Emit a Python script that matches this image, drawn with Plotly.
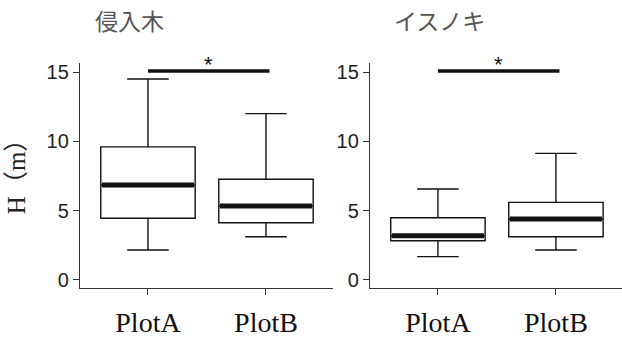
import plotly.graph_objects as go
from plotly.subplots import make_subplots

categories = ["PlotA", "PlotB"]
panel_titles = ["侵入木", "イスノキ"]

# left panel (侵入木)
inv_upper = [14.5, 12.0]
inv_q3 = [9.6, 7.26]
inv_median = [6.85, 5.33]
inv_q1 = [4.45, 4.13]
inv_lower = [2.16, 3.12]

# right panel (イスノキ)
isu_upper = [6.56, 9.13]
isu_q3 = [4.49, 5.6]
isu_median = [3.19, 4.4]
isu_q1 = [2.83, 3.12]
isu_lower = [1.68, 2.16]

sig_level = 15.07
sig_label = "*"
yticks = [0, 5, 10, 15]

panels = [
    (inv_lower, inv_q1, inv_median, inv_q3, inv_upper),
    (isu_lower, isu_q1, isu_median, isu_q3, isu_upper),
]

fig = make_subplots(rows=1, cols=2, horizontal_spacing=0.068)

BW = 0.8
xpos = list(range(len(categories)))
for c, (lo, q1, med, q3, up) in enumerate(panels, start=1):
    fig.add_trace(go.Box(
        x=xpos, q1=q1, median=med, q3=q3, lowerfence=lo, upperfence=up,
        width=BW, whiskerwidth=0.44, fillcolor="white",
        line=dict(color="#111", width=1.4), boxpoints=False,
        showlegend=False, hoverinfo="skip"), row=1, col=c)
    for i, m in enumerate(med):
        fig.add_trace(go.Scatter(
            x=[xpos[i] - BW / 2 + 0.01, xpos[i] + BW / 2 - 0.01], y=[m, m],
            mode="lines", line=dict(color="#111", width=5),
            showlegend=False, hoverinfo="skip"), row=1, col=c)
    fig.add_trace(go.Scatter(
        x=[xpos[0], xpos[1] + 0.03], y=[sig_level, sig_level], mode="lines",
        line=dict(color="#111", width=3.6), showlegend=False, hoverinfo="skip"),
        row=1, col=c)
    fig.add_annotation(x=(xpos[0] + xpos[1]) / 2 + 0.01, y=sig_level, text=sig_label,
                       showarrow=False, yanchor="bottom", yshift=-8,
                       font=dict(family="Liberation Sans", size=22, color="#111"),
                       xref=f"x{'' if c == 1 else c}", yref=f"y{'' if c == 1 else c}")

xranges = [[-0.576, 1.568], [-0.576, 1.56]]
for c in (1, 2):
    fig.update_xaxes(range=xranges[c - 1], tickvals=xpos, ticktext=categories,
                     showline=True, linecolor="#333", linewidth=1.3,
                     ticks="outside", ticklen=6, tickcolor="#333", tickwidth=1.2,
                     showgrid=False, zeroline=False, ticklabelstandoff=3,
                     tickfont=dict(family="Liberation Serif", size=28, color="#111"),
                     row=1, col=c)
    fig.update_yaxes(range=[-0.58, 15.65], tickvals=yticks,
                     showline=True, linecolor="#333", linewidth=1.3,
                     ticks="outside", ticklen=6, tickcolor="#333", tickwidth=1.2,
                     showgrid=False, zeroline=False,
                     tickfont=dict(family="Liberation Sans", size=20, color="#222"),
                     row=1, col=c)

fig.update_layout(
    width=622, height=339,
    margin=dict(l=80, r=0, t=63, b=51),
    plot_bgcolor="white", paper_bgcolor="white",
)
fig.update_xaxes(domain=[0, 0.4668], row=1, col=1)
fig.update_xaxes(domain=[0.535, 1.0], row=1, col=2)

title_x = [0.092, 0.664]
for t, xx in zip(panel_titles, title_x):
    fig.add_annotation(x=xx, y=1.191, xref="paper", yref="paper", text=t,
                       showarrow=False, xanchor="center", yanchor="middle",
                       font=dict(family="Noto Sans CJK JP", size=23, color="#555"))

fig.add_annotation(x=-0.118, y=0.524, xref="paper", yref="paper", text="H（m）",
                   showarrow=False, textangle=-90, xanchor="center", yanchor="middle",
                   font=dict(family="Liberation Serif, Noto Sans CJK JP", size=25, color="#222"))

fig.write_html("out.html", config={"displayModeBar": False},
               post_script="document.body.style.margin='0px';document.body.style.overflow='hidden';")
